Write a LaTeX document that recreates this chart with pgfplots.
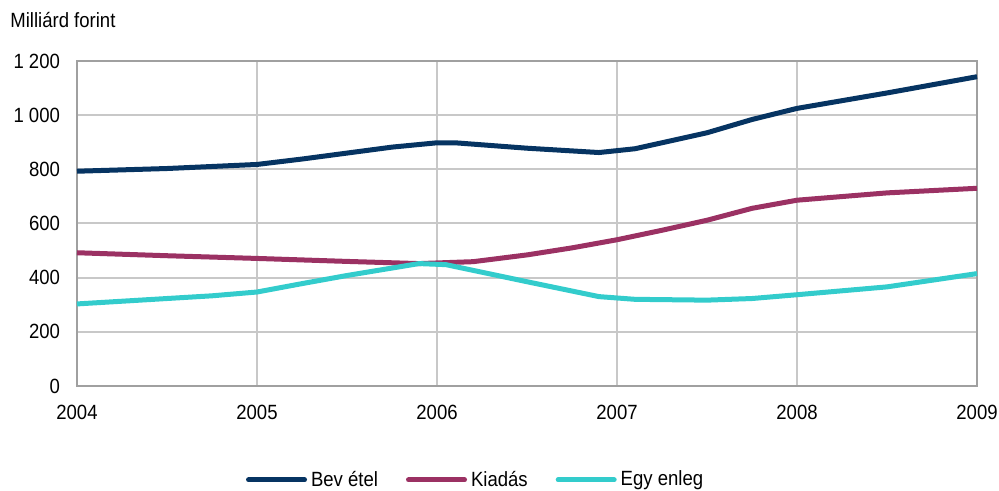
\documentclass[border=0pt]{standalone}
\usepackage{fontspec}
\setmainfont{Liberation Sans}[FakeStretch=0.9]
\usepackage{pgfplots}
\pgfplotsset{compat=1.18}

\definecolor{bevetel}{RGB}{6,52,98}
\definecolor{kiadas}{RGB}{155,49,99}
\definecolor{egyenleg}{RGB}{51,204,204}
\definecolor{gridgray}{RGB}{200,200,200}
\definecolor{axgray}{RGB}{160,160,160}

\begin{document}
\begin{tikzpicture}
\path[use as bounding box] (-38.5pt,-52.5pt) rectangle (461pt,193pt);
\begin{axis}[
    at={(0,0)}, anchor=south west,
    scale only axis,
    width=450pt, height=162.5pt,
    xmin=2004, xmax=2009,
    ymin=0, ymax=1200,
    xtick={2004,2005,2006,2007,2008,2009},
    xticklabels={2004,2005,2006,2007,2008,2009},
    ytick={0,200,400,600,800,1000,1200},
    yticklabels={0,200,400,600,800,1 000,1 200},
    major tick length=0pt,
    grid=major,
    grid style={gridgray, line width=1pt},
    axis line style={axgray, line width=1.3pt},
    tick label style={font=\fontsize{10.3}{12}\selectfont},
    xticklabel style={yshift=-6pt},
    yticklabel style={xshift=-5pt},
    legend columns=3,
    legend style={draw=none, fill=none,
        at={(rel axis cs:0.444,-0.289)}, anchor=center,
        font=\fontsize{10.3}{12}\selectfont,
        /tikz/every even column/.append style={column sep=12pt}},
    legend image code/.code={\draw[#1, line cap=round] (0pt,0pt) -- (28pt,0pt);},
    clip=false,
]
\addplot[bevetel, line width=2.5pt, line join=round] coordinates {
    (2004.0,793) (2004.5,803) (2005.0,818) (2005.25,838) (2005.5,860)
    (2005.75,882) (2006.0,898) (2006.1,898) (2006.5,878) (2006.9,862)
    (2007.1,876) (2007.5,935) (2007.75,984) (2008.0,1025) (2008.5,1082)
    (2009.0,1142)
};
\addlegendentry{Bev étel}
\addplot[kiadas, line width=2.5pt, line join=round] coordinates {
    (2004.0,492) (2004.5,481) (2005.0,471) (2005.5,460) (2005.9,452)
    (2006.2,459) (2006.5,484) (2006.75,510) (2007.0,540) (2007.25,575)
    (2007.5,612) (2007.75,656) (2008.0,686) (2008.5,713) (2009.0,730)
};
\addlegendentry{Kiadás}
\addplot[egyenleg, line width=2.5pt, line join=round] coordinates {
    (2004.0,303) (2004.5,323) (2004.75,333) (2005.0,347) (2005.25,378)
    (2005.5,408) (2005.9,452) (2006.05,448) (2006.25,420) (2006.5,385)
    (2006.9,330) (2007.1,320) (2007.5,317) (2007.75,323) (2008.0,337)
    (2008.5,366) (2009.0,415)
};
\addlegendentry{Egy enleg}
\node[anchor=west, font=\fontsize{10.3}{12}\selectfont, inner sep=0pt]
    at (rel axis cs:0,1) [xshift=-33.5pt, yshift=20.5pt] {Milliárd forint};
\end{axis}
\end{tikzpicture}
\end{document}
